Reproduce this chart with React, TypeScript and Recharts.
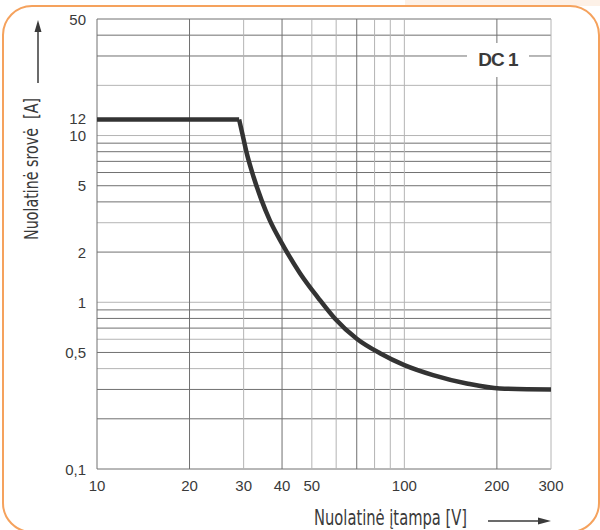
import React from "react";
import { LineChart, Line, XAxis, YAxis, ReferenceLine } from "recharts";

// Nuolatinė įtampa [V]
const voltage = [10, 29, 29.7, 30.7, 32.3, 34.3, 36.5, 40, 45.8, 52.5, 59.4, 70, 83.3, 100, 124, 159.5, 204.6, 300];
// Nuolatinė srovė [A]
const current = [12.5, 12.5, 10.3, 7.84, 5.66, 4.1, 3.1, 2.25, 1.49, 1.06, 0.8, 0.605, 0.495, 0.42, 0.366, 0.326, 0.304, 0.3];
// last voltage of the constant-current segment
const kneeVoltage = 29;

const xTicks = [10, 20, 30, 40, 50, 100, 200, 300];
const yTicks = [0.1, 0.5, 1, 2, 5, 10, 12, 50];

const xGrid = [10, 20, 30, 40, 50, 60, 70, 80, 90, 100, 200, 300];
const xGridLight = [30, 50, 60, 80, 90, 100, 300];
const yGrid = [0.1, 0.2, 0.3, 0.4, 0.5, 0.6, 0.7, 0.8, 0.9, 1, 2, 3, 4, 5, 6, 7, 8, 9, 10, 20, 30, 40, 50];
const yGridLight = [0.4, 0.6, 1, 3, 10, 20];

const data = voltage.map((v, i) => ({
  v,
  flat: v <= kneeVoltage ? current[i] : null,
  curve: v >= kneeVoltage ? current[i] : null,
}));

const DARK = "#707070";
const LIGHT = "#b4b4b4";
const TEXT = "#3a3a3a";
const FONT = "'Liberation Sans', Arial, sans-serif";
const NARROW = "'Liberation Sans Narrow', 'DejaVu Sans Condensed', 'Liberation Sans', sans-serif";

const fmt = (n: number) => String(n).replace(".", ",");

const YTick = (props: any) => {
  const { x, y, payload } = props;
  const shift = payload.value === 12 ? -4 : 0;
  return (
    <text x={x} y={y + shift} textAnchor="end" dominantBaseline="central" fontSize={15} fill={TEXT} fontFamily={FONT}>
      {fmt(payload.value)}
    </text>
  );
};

const XTick = (props: any) => {
  const { x, y, payload } = props;
  return (
    <text x={x} y={y} dy="0.71em" textAnchor="middle" fontSize={15} fill={TEXT} fontFamily={FONT}>
      {fmt(payload.value)}
    </text>
  );
};

export default function App() {
  return (
    <div style={{ position: "absolute", left: 0, top: 0, width: 600, height: 530, overflow: "hidden", background: "#fff" }}>
      <div style={{ position: "absolute", left: 405, top: 0, width: 195, height: 6, background: "#fdf1e7" }} />
      <div
        style={{
          position: "absolute",
          left: 2,
          top: 5,
          width: 598,
          height: 528,
          border: "2.5px solid #f5a25d",
          borderRadius: 30,
          boxSizing: "border-box",
          background: "#fff",
        }}
      />
      <div style={{ position: "absolute", left: 0, top: 0 }}>
        <LineChart width={600} height={530} data={data} margin={{ top: 19, right: 49, bottom: 31, left: 37 }}>
          <XAxis
            dataKey="v"
            type="number"
            scale="log"
            domain={[10, 300]}
            ticks={xTicks}
            allowDataOverflow
            axisLine={false}
            tickLine={false}
            tickSize={0}
            tickMargin={11}
            height={30}
            tick={<XTick />}
            interval={0}
          />
          <YAxis
            type="number"
            scale="log"
            domain={[0.1, 50]}
            ticks={yTicks}
            allowDataOverflow
            axisLine={false}
            tickLine={false}
            tickSize={0}
            tickMargin={11}
            width={60}
            tick={<YTick />}
            interval={0}
          />
          {yGrid.map((g) => (
            <ReferenceLine key={"y" + g} y={g} stroke={yGridLight.includes(g) ? LIGHT : DARK} strokeWidth={1} />
          ))}
          {xGrid.map((g) => (
            <ReferenceLine key={"x" + g} x={g} stroke={xGridLight.includes(g) ? LIGHT : DARK} strokeWidth={1} />
          ))}
          <Line
            type="linear"
            dataKey="flat"
            stroke="#333333"
            strokeWidth={4.5}
            dot={false}
            isAnimationActive={false}
            strokeLinejoin="round"
            connectNulls={false}
          />
          <Line
            type="monotoneX"
            dataKey="curve"
            stroke="#333333"
            strokeWidth={4.5}
            dot={false}
            isAnimationActive={false}
            strokeLinejoin="round"
            connectNulls={false}
          />
        </LineChart>
      </div>
      <div
        style={{
          position: "absolute",
          left: 467,
          top: 43,
          width: 62,
          height: 34,
          background: "#fff",
          display: "flex",
          alignItems: "center",
          justifyContent: "center",
          fontFamily: FONT,
          fontWeight: "bold",
          fontSize: 19,
          letterSpacing: -1,
          color: TEXT,
        }}
      >
        DC 1
      </div>
      <svg width={600} height={530} style={{ position: "absolute", left: 0, top: 0, pointerEvents: "none" }}>
        <text
          transform="translate(38,169) rotate(-90)"
          textAnchor="middle"
          fontSize={19}
          fontFamily={NARROW}
          fill={TEXT}
          textLength={142}
          lengthAdjust="spacingAndGlyphs"
          style={{ whiteSpace: "pre" }}
        >
          {"Nuolatinė srovė  [A]"}
        </text>
        <line x1={38} y1={83} x2={38} y2={30} stroke={TEXT} strokeWidth={1.5} />
        <polygon points="38,20 34.5,32 41.5,32" fill={TEXT} />
        <text
          x={314}
          y={525}
          fontSize={21}
          fontFamily={NARROW}
          fill={TEXT}
          textLength={153}
          lengthAdjust="spacingAndGlyphs"
        >
          Nuolatinė įtampa [V]
        </text>
        <line x1={488} y1={521} x2={540} y2={521} stroke={TEXT} strokeWidth={1.5} />
        <polygon points="551,521 538,517.5 538,524.5" fill={TEXT} />
      </svg>
    </div>
  );
}
